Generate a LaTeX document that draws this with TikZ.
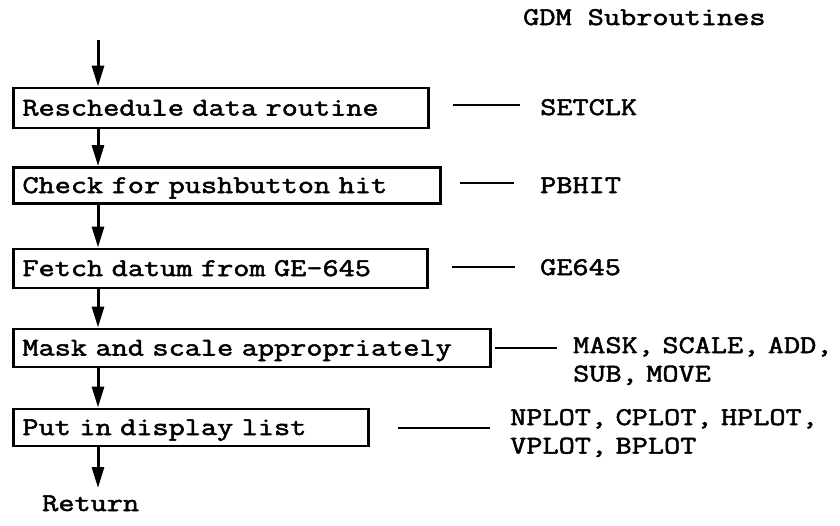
\documentclass[tikz,border=0pt]{standalone}
\usepackage{fontspec}
\setmainfont{Latin Modern Mono}[FakeBold=2, FakeStretch=1.23]
\usetikzlibrary{arrows.meta}
\begin{document}
\begin{tikzpicture}[x=1pt,y=-1pt,
  font=\fontsize{25.5}{28.5}\selectfont,
  stepbox/.style={draw, line width=2.9pt, anchor=west, inner xsep=9pt, inner ysep=0pt,
    text height=15pt, text depth=0pt, align=left},
  flow/.style={line width=3pt, -{Triangle[length=21pt,width=12pt]}},
  link/.style={line width=2.2pt},
  label/.style={anchor=base west, inner sep=0pt}]
\useasboundingbox (0,0) rectangle (840,525);
% boxes
\node[stepbox, text width=397pt, minimum height=40pt] (b1) at (12,108) {Reschedule data routine};
\node[stepbox, text width=409pt, minimum height=36pt] (b2) at (12,185.5) {Check for pushbutton hit};
\node[stepbox, text width=396pt, minimum height=39pt] (b3) at (12,268.5) {Fetch datum from GE-645};
\node[stepbox, text width=459pt, minimum height=38pt] (b4) at (12,348) {Mask and scale appropriately};
\node[stepbox, text width=337pt, minimum height=37pt] (b5) at (12,427.5) {Put in display list};
% flow arrows
\coordinate (in) at (98,40);
\coordinate (out) at (98,488);
\draw[flow] (in) -- (b1.north -| in);
\draw[flow] (b1.south -| in) -- (b2.north -| in);
\draw[flow] (b2.south -| in) -- (b3.north -| in);
\draw[flow] (b3.south -| in) -- (b4.north -| in);
\draw[flow] (b4.south -| in) -- (b5.north -| in);
\draw[flow] (b5.south -| in) -- (out);
\node[label] (ret) at (42,511) {Return};
% subroutines
\node[label] (title) at (523,25) {GDM Subroutines};
\node[label] (s1) at (540,115) {SETCLK};
\node[label] (s2) at (540,193) {PBHIT};
\node[label] (s3) at (540,275) {GE645};
\node[label, text width=275pt, align=left] (s4) at (573,353) {MASK, SCALE, ADD,\\SUB, MOVE};
\node[label, text width=320pt, align=left] (s5) at (510,425) {NPLOT, CPLOT, HPLOT,\\VPLOT, BPLOT};
% connector lines
\coordinate (c1a) at (453,105); \coordinate (c1b) at (520,105);
\coordinate (c2a) at (460,183); \coordinate (c2b) at (514,183);
\coordinate (c3a) at (452,267); \coordinate (c3b) at (515,267);
\coordinate (c4a) at (495,348); \coordinate (c4b) at (557,348);
\coordinate (c5a) at (398,428); \coordinate (c5b) at (490,428);
\draw[link] (c1a) -- (c1b);
\draw[link] (c2a) -- (c2b);
\draw[link] (c3a) -- (c3b);
\draw[link] (c4a) -- (c4b);
\draw[link] (c5a) -- (c5b);
\end{tikzpicture}
\end{document}
